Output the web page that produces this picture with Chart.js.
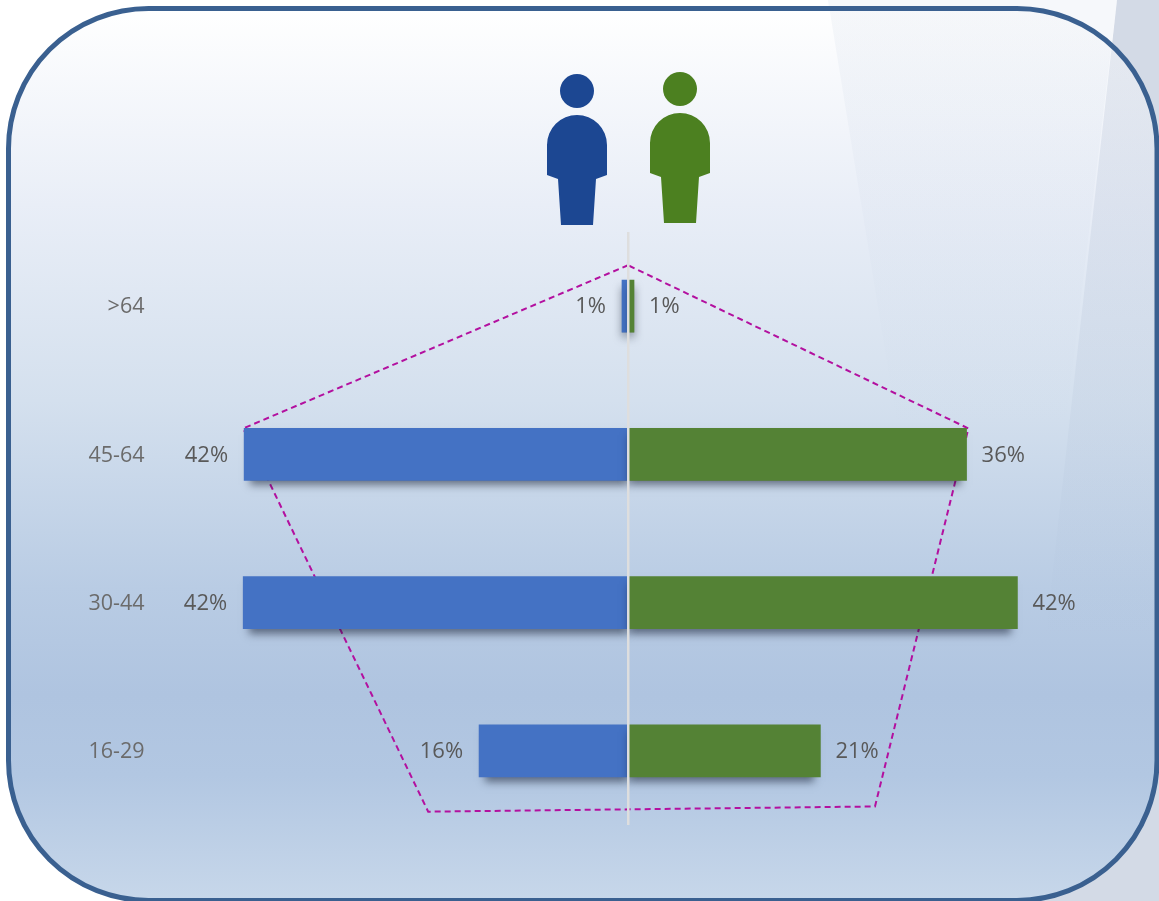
<!DOCTYPE html>
<html>
<head>
<meta charset="utf-8">
<title>Age pyramid</title>
<style>
  html, body { margin: 0; padding: 0; background: #fff; overflow: hidden; }
  canvas { display: block; }
</style>
<script src="https://cdn.jsdelivr.net/npm/chart.js@4"></script>
</head>
<body>
<canvas id="pyramid" width="1159" height="901"></canvas>
<script>
// values (bar lengths, in %)
const ageGroups = [">64", "45-64", "30-44", "16-29"];
const menValues = [-0.65, -41.5, -41.6, -16.1];
const womenValues = [0.65, 36.6, 42.1, 20.8];
const menLabels = ["1%", "42%", "42%", "16%"];
const womenLabels = ["1%", "36%", "42%", "21%"];

// dashed outline, x in %, y in category rows (0 = first row)
const outlineX = [0, -41.6, -21.6, 26.7, 36.8, 0];
const outlineY = [-0.276, 0.825, 3.41, 3.375, 0.825, -0.276];

const BLUE = "#4472c4";
const GREEN = "#548235";

function roundedPanel(ctx) {
    const l = 8.5, t = 8.5, r = 1157, b = 900.5, rad = 140;
    ctx.beginPath();
    ctx.moveTo(l + rad, t);
    ctx.arcTo(r, t, r, b, rad);
    ctx.arcTo(r, b, l, b, rad);
    ctx.arcTo(l, b, l, t, rad);
    ctx.arcTo(l, t, r, t, rad);
    ctx.closePath();
}

function polygon(ctx, pts) {
    ctx.beginPath();
    pts.forEach((p, i) => i ? ctx.lineTo(p[0], p[1]) : ctx.moveTo(p[0], p[1]));
    ctx.closePath();
}

// background card with the slanted facets
const cardPlugin = {
    id: "card",
    beforeDraw(chart) {
        const ctx = chart.ctx;
        ctx.save();
        ctx.fillStyle = "#fff";
        ctx.fillRect(0, 0, 1159, 901);
        ctx.fillStyle = "#f6f8fb";
        polygon(ctx, [[828, 0], [1117, 0], [1095, 180], [850, 180]]);
        ctx.fill();
        ctx.fillStyle = "#d3dae6";
        polygon(ctx, [[1117, 0], [1159, 0], [1159, 901], [1016, 901]]);
        ctx.fill();

        roundedPanel(ctx);
        const g = ctx.createLinearGradient(0, 8, 0, 900);
        g.addColorStop(0, "#ffffff");
        g.addColorStop(0.22, "#e9eef7");
        g.addColorStop(0.44, "#d4e0ee");
        g.addColorStop(0.65, "#b9cce4");
        g.addColorStop(0.77, "#afc4e0");
        g.addColorStop(0.86, "#b2c7e2");
        g.addColorStop(1, "#c7d7ea");
        ctx.fillStyle = g;
        ctx.fill();

        ctx.save();
        roundedPanel(ctx);
        ctx.clip();
        const f1 = ctx.createLinearGradient(0, 0, 0, 430);
        f1.addColorStop(0, "rgba(150,170,200,0.09)");
        f1.addColorStop(1, "rgba(150,170,200,0)");
        ctx.fillStyle = f1;
        polygon(ctx, [[828, 0], [1117, 0], [1065, 430], [898, 430]]);
        ctx.fill();
        const f2 = ctx.createLinearGradient(0, 0, 0, 640);
        f2.addColorStop(0, "rgba(120,140,175,0.18)");
        f2.addColorStop(1, "rgba(120,140,175,0)");
        ctx.fillStyle = f2;
        polygon(ctx, [[1117, 0], [1159, 0], [1159, 640], [1045, 640]]);
        ctx.fill();
        ctx.restore();

        roundedPanel(ctx);
        ctx.lineWidth = 5;
        ctx.strokeStyle = "#3a6090";
        ctx.stroke();

        drawPerson(ctx, 577, 91, "#1c4792");
        drawPerson(ctx, 680, 89, "#4c8020");
        ctx.restore();
    }
};

function drawPerson(ctx, cx, headY, color) {
    ctx.fillStyle = color;
    ctx.beginPath();
    ctx.arc(cx, headY, 17, 0, Math.PI * 2);
    ctx.fill();
    const top = headY + 24;
    ctx.beginPath();
    ctx.moveTo(cx - 30, top + 30);
    ctx.arc(cx, top + 30, 30, Math.PI, 0);
    ctx.lineTo(cx + 30, top + 60);
    ctx.lineTo(cx + 19, top + 64);
    ctx.lineTo(cx + 16, top + 110);
    ctx.lineTo(cx - 16, top + 110);
    ctx.lineTo(cx - 19, top + 64);
    ctx.lineTo(cx - 30, top + 60);
    ctx.closePath();
    ctx.fill();
}

// soft shadow under the bars, cast by a rect pulled in at the outer end
const shadowPlugin = {
    id: "barShadow",
    beforeDatasetDraw(chart, args) {
        if (args.meta.type !== "bar") return;
        const ctx = chart.ctx;
        ctx.save();
        ctx.shadowColor = "rgba(20,30,50,0.55)";
        ctx.shadowBlur = 8;
        ctx.shadowOffsetY = 5;
        ctx.fillStyle = "#555";
        args.meta.data.forEach((bar) => {
            const inset = Math.abs(bar.x - bar.base) > 20 ? 6 : 0;
            const end = bar.x < bar.base ? bar.x + inset : bar.x - inset;
            const left = Math.min(end, bar.base);
            ctx.fillRect(left, bar.y - bar.height / 2 + 2, Math.abs(end - bar.base), bar.height - 2);
        });
        ctx.restore();
    }
};

// % labels next to bar ends
const valueLabels = {
    id: "valueLabels",
    afterDraw(chart) {
        const ctx = chart.ctx;
        ctx.save();
        ctx.font = '22px "Open Sans"';
        ctx.fillStyle = "#595959";
        ctx.textBaseline = "middle";
        [[0, menLabels, "right", -16], [1, womenLabels, "left", 15]].forEach(([idx, texts, align, gap]) => {
            ctx.textAlign = align;
            chart.getDatasetMeta(idx).data.forEach((bar, i) => {
                ctx.fillText(texts[i], bar.x + gap, bar.y + 1);
            });
        });
        ctx.restore();
    }
};

new Chart(document.getElementById("pyramid").getContext("2d"), {
    type: "bar",
    data: {
        labels: ageGroups,
        datasets: [{
                label: "Men",
                data: menValues,
                backgroundColor: BLUE,
                barThickness: 52,
                grouped: false,
                order: 2
            },
            {
                label: "Women",
                data: womenValues,
                backgroundColor: GREEN,
                barThickness: 52,
                grouped: false,
                order: 1
            },
            {
                type: "scatter",
                label: "Outline",
                indexAxis: "x",
                data: outlineX.map((x, i) => ({ x: x, y: outlineY[i] })),
                xAxisID: "x",
                yAxisID: "yLine",
                showLine: true,
                borderColor: "#b3109f",
                borderWidth: 2,
                borderDash: [6, 4],
                pointRadius: 0,
                order: 5
            }
        ]
    },
    options: {
        indexAxis: "y",
        responsive: false,
        animation: false,
        layout: {
            padding: { top: 232, bottom: 76, right: 68.5, left: 0 }
        },
        plugins: {
            legend: { display: false },
            tooltip: { enabled: false },
            title: { display: false }
        },
        scales: {
            x: {
                type: "linear",
                min: -50,
                max: 50,
                ticks: { display: false, stepSize: 50 },
                border: { display: false },
                grid: {
                    z: 1,
                    drawTicks: false,
                    lineWidth: 2.5,
                    color: (c) => c.tick && c.tick.value === 0 ? "#dedede" : "rgba(0,0,0,0)"
                }
            },
            y: {
                type: "category",
                border: { display: false },
                grid: { display: false, drawTicks: false },
                afterFit(scale) { scale.width = 165.5; },
                ticks: {
                    padding: 21,
                    labelOffset: 1,
                    color: "#6b6b6b",
                    font: { family: '"Open Sans"', size: 21.5 }
                }
            },
            yLine: {
                type: "linear",
                axis: "y",
                display: false,
                offset: false,
                reverse: true,
                min: -0.5,
                max: 3.5
            }
        }
    },
    plugins: [cardPlugin, shadowPlugin, valueLabels]
});
</script>
</body>
</html>
